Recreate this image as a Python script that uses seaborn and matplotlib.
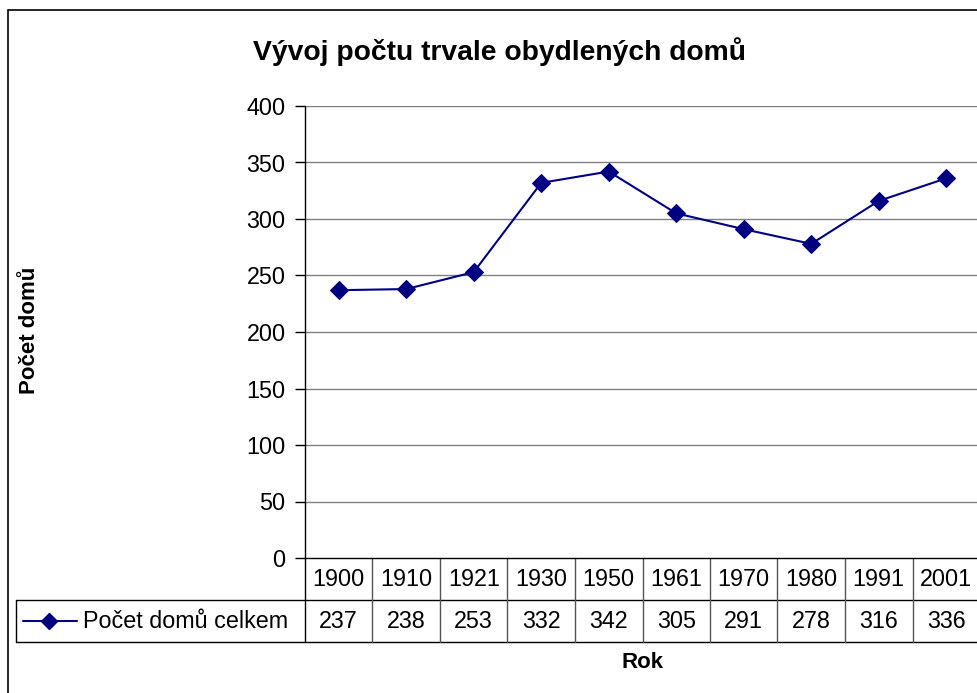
import matplotlib
matplotlib.use("Agg")
import matplotlib.pyplot as plt
import seaborn as sns
import pandas as pd
import numpy as np
from matplotlib.lines import Line2D
from matplotlib.patches import Rectangle

years = ["1900", "1910", "1921", "1930", "1950", "1961", "1970", "1980", "1991", "2001"]
values = [237, 238, 253, 332, 342, 305, 291, 278, 316, 336]
yticks = [0, 50, 100, 150, 200, 250, 300, 350, 400]
series_name = "Počet domů celkem"
title = "Vývoj počtu trvale obydlených domů"
ylabel = "Počet domů"
xlabel = "Rok"

sns.set_theme(style="white")
plt.rcParams['font.family'] = ['Liberation Sans', 'DejaVu Sans']
plt.rcParams['text.color'] = 'black'
plt.rcParams['ytick.color'] = 'black'
plt.rcParams['ytick.labelcolor'] = 'black'

FS = 16.8

W, H = 978, 693
fig = plt.figure(figsize=(W / 100, H / 100), dpi=100)
fig.patch.set_facecolor("white")

# outer chart border
fig.add_artist(Rectangle((8 / W, -0.01), 1.2, (H - 10) / H + 0.01, transform=fig.transFigure,
                         fill=False, edgecolor="black", linewidth=1.2))

L, R, T, B = 305, 980, 106, 558
ax = fig.add_axes([L / W, (H - B) / H, (R - L) / W, (B - T) / H])
df = pd.DataFrame({"idx": np.arange(len(years)), "val": values})
sns.lineplot(data=df, x="idx", y="val", ax=ax, color="#000080", marker="D",
             markersize=9, markeredgecolor="#000080", linewidth=1.5)

ax.set_xlim(-0.5, len(years) - 0.5)
ax.set_ylim(0, 400)
ax.set_yticks(yticks)
ax.set_yticklabels([str(v) for v in yticks], fontsize=FS, color="black")
ax.set_xticks([])
ax.set_xlabel("")
ax.set_ylabel("")
ax.tick_params(axis="y", direction="out", length=7, width=1, color="black", pad=7, left=True)
for y in yticks[1:]:
    ax.axhline(y, color="#808080", linewidth=1, zorder=0)
for s in ["top", "right"]:
    ax.spines[s].set_visible(False)
ax.spines["left"].set_color("black")
ax.spines["bottom"].set_color("black")
ax.spines["left"].set_linewidth(1)
ax.spines["bottom"].set_linewidth(1)

# data table (in pixel -> axes coordinates)
def ax_x(px):
    return (px - L) / (R - L)

def ax_y(py):
    return (B - py) / (B - T)

row1, row2, row3 = 558, 600, 642
lk = dict(color="black", linewidth=1, transform=ax.transAxes, clip_on=False)
ax.add_line(Line2D([ax_x(16), 1.0], [ax_y(row2), ax_y(row2)], **lk))
ax.add_line(Line2D([ax_x(16), 1.0], [ax_y(row3), ax_y(row3)], **lk))
ax.add_line(Line2D([ax_x(16), ax_x(16)], [ax_y(row2), ax_y(row3)], **lk))
ax.add_line(Line2D([0, 0], [ax_y(row1), ax_y(row3)], **lk))
n = len(years)
for k in range(1, n + 1):
    xf = k / n
    ax.add_line(Line2D([xf, xf], [ax_y(row1), ax_y(row3)], color="#555555", linewidth=1,
                       transform=ax.transAxes, clip_on=False))
for k, (yr, v) in enumerate(zip(years, values)):
    xc = (k + 0.5) / n
    ax.text(xc, ax_y((row1 + row2) / 2), yr, transform=ax.transAxes, ha="center", va="center",
            fontsize=FS, color="black")
    ax.text(xc, ax_y((row2 + row3) / 2), str(v), transform=ax.transAxes, ha="center", va="center",
            fontsize=FS, color="black")

# legend key in table
ym = ax_y((row2 + row3) / 2)
ax.add_line(Line2D([ax_x(23), ax_x(77)], [ym, ym], color="#000080", linewidth=1.5,
                   transform=ax.transAxes, clip_on=False))
ax.add_line(Line2D([ax_x(49)], [ym], color="#000080", marker="D", markersize=8,
                   transform=ax.transAxes, clip_on=False))
ax.text(ax_x(83), ym, series_name, transform=ax.transAxes, ha="left", va="center",
        fontsize=FS, color="black")

fig.text(500 / W, 1 - 52 / H, title, ha="center", va="center", fontsize=20.3, fontweight="bold",
         color="black")
fig.text(30 / W, 1 - 330 / H, ylabel, ha="center", va="center", rotation=90, fontsize=16,
         fontweight="bold", color="black")
fig.text(643 / W, 1 - 663 / H, xlabel, ha="center", va="center", fontsize=16, fontweight="bold",
         color="black")

fig.savefig("out.png", dpi=100)
